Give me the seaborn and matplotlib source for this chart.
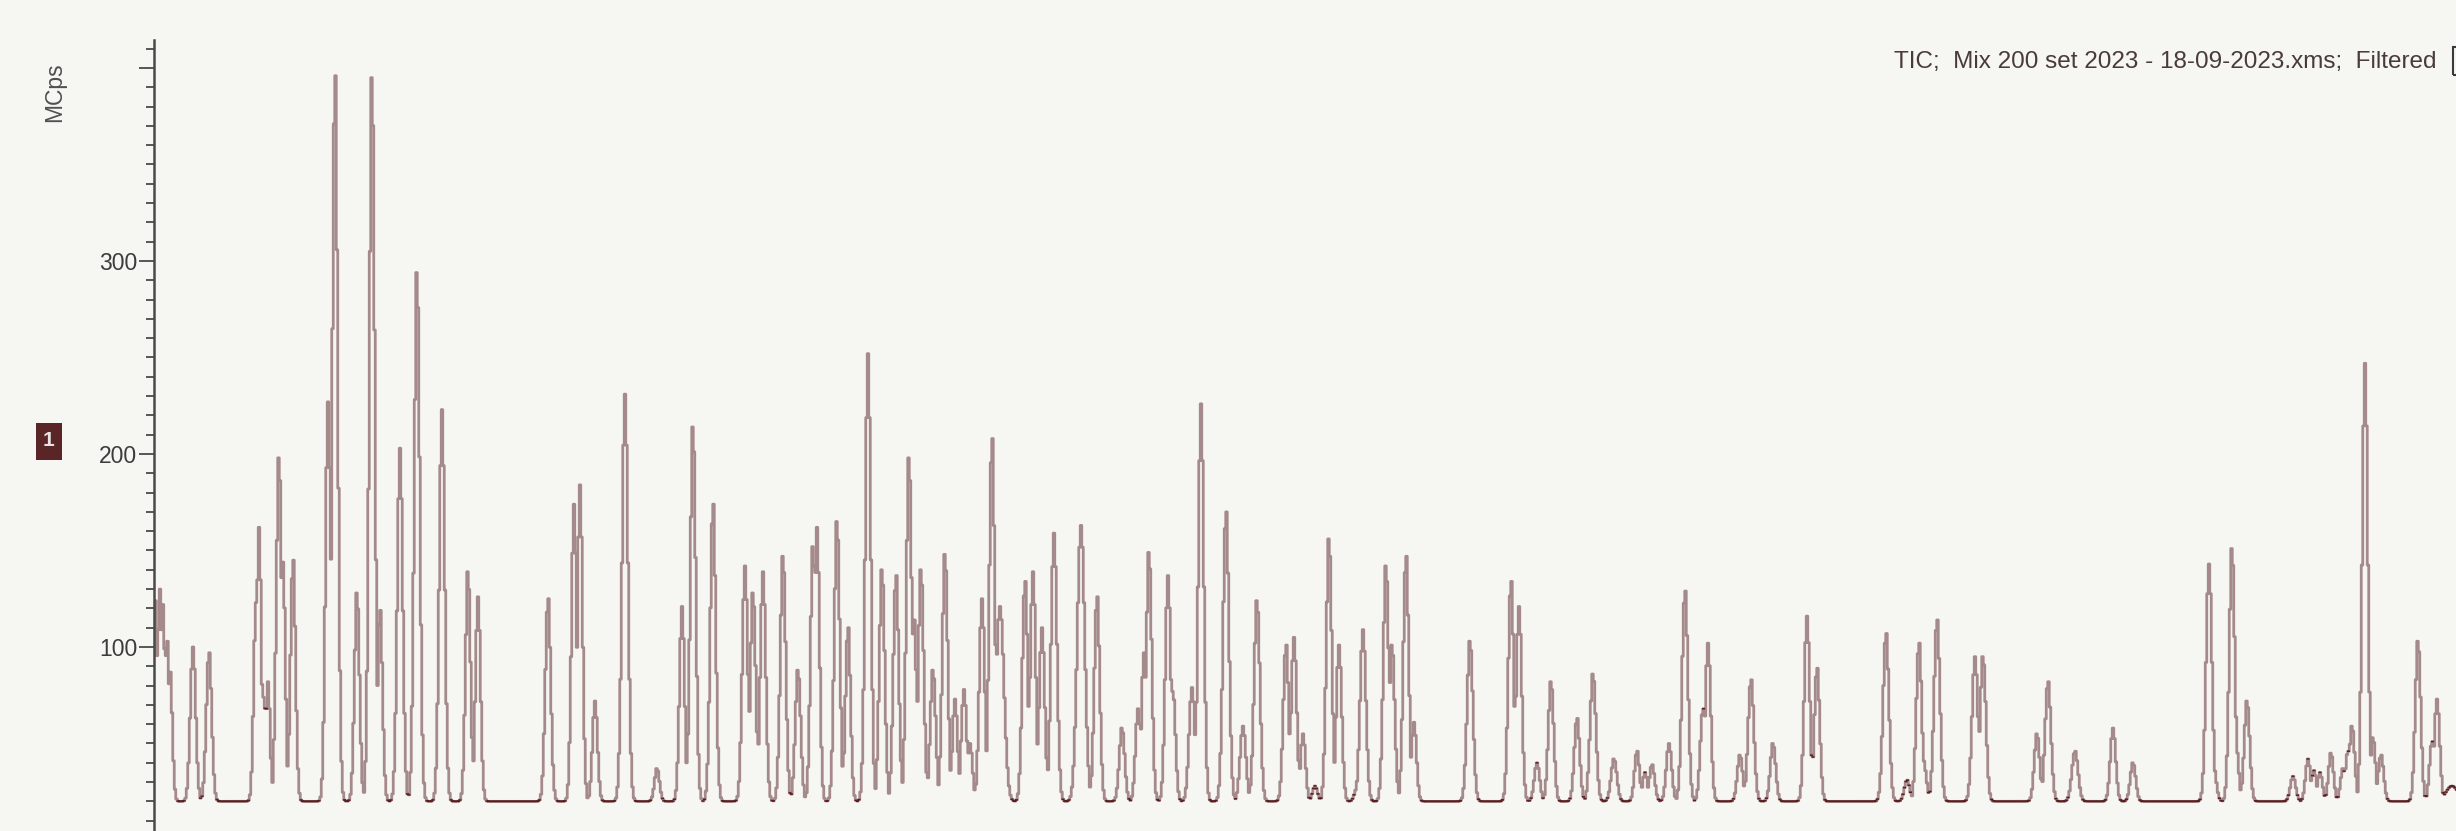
import numpy as np
import pandas as pd
import matplotlib
matplotlib.use("Agg")
import matplotlib.pyplot as plt
from matplotlib.patches import Rectangle
from matplotlib.ticker import MultipleLocator, FixedLocator
import seaborn as sns

# ---- TIC peak table: scan number, apex intensity (MCps), peak sigma (scans) ----
peak_scan = [155, 160, 163, 167, 170, 193, 209, 256, 259, 264, 268, 279, 283, 293,
             328, 335, 357, 372, 380, 400, 417, 442, 468, 478, 548, 574, 580, 595,
             625, 657, 682, 693, 713, 745, 753, 763, 783, 798, 813, 817, 837, 848,
             868, 882, 896, 909, 914, 921, 933, 945, 955, 964, 970, 982, 992, 1000,
             1025, 1033, 1042, 1054, 1081, 1097, 1122, 1138, 1144, 1149, 1168, 1173,
             1192, 1201, 1226, 1243, 1257, 1286, 1294, 1303, 1315, 1329, 1339, 1357,
             1363, 1386, 1392, 1406, 1414, 1470, 1511, 1519, 1537, 1551, 1577, 1593,
             1614, 1637, 1645, 1652, 1669, 1685, 1703, 1708, 1740, 1751, 1773, 1807,
             1817, 1886, 1907, 1919, 1923, 1937, 1975, 1983, 2037, 2048, 2075, 2113,
             2133, 2209, 2213, 2232, 2236, 2247, 2293, 2308, 2314, 2320, 2331, 2343,
             2348, 2352, 2365, 2373, 2381, 2418, 2432, 2437, 2452]
peak_mcps = [124, 130, 122, 103, 87, 100, 97, 123, 162, 74, 82, 198, 144, 145,
             227, 396, 128, 395, 119, 203, 294, 223, 139, 126, 125, 174, 184, 72,
             231, 37, 121, 214, 174, 142, 128, 139, 147, 88, 152, 162, 165, 110,
             252, 140, 137, 198, 114, 140, 88, 148, 73, 78, 50, 125, 208, 121,
             134, 139, 110, 159, 163, 126, 58, 68, 97, 149, 137, 77,
             79, 226, 170, 59, 124, 101, 105, 55, 28, 156, 101, 27,
             109, 142, 101, 147, 61, 103, 134, 121, 40, 82, 63, 86,
             42, 46, 35, 39, 50, 129, 68, 102, 44, 83, 50, 116,
             89, 107, 31, 102, 42, 114, 95, 95, 55, 82, 46, 58,
             40, 143, 40, 151, 50, 72, 33, 42, 36, 35, 45, 37,
             46, 59, 247, 53, 44, 103, 51, 73, 28]
peak_sigma = [2.5, 2.3, 2.1, 2.3, 2.3, 2.7, 2.7, 2.3, 2.3, 2.1, 2.1, 2.7, 2.3, 2.5,
              2.5, 2.7, 2.5, 2.7, 2.5, 2.7, 2.7, 2.7, 2.5, 2.5, 2.7, 2.5, 2.5, 2.5,
              2.9, 2.5, 2.5, 2.7, 2.7, 2.7, 2.7, 2.7, 2.7, 2.7, 2.5, 2.5, 2.7, 2.5,
              2.7, 2.7, 2.7, 2.7, 2.5, 2.7, 2.7, 2.7, 2.5, 2.7, 2.5, 2.7, 2.7, 4.0,
              2.7, 2.7, 2.7, 2.9, 3.7, 2.7, 2.7, 2.5, 2.5, 2.7, 2.7, 2.5,
              2.9, 2.7, 2.9, 2.9, 2.9, 2.7, 2.7, 2.5, 2.5, 2.7, 2.7, 2.5,
              2.9, 2.7, 2.7, 2.7, 2.5, 2.9, 2.7, 2.7, 2.7, 2.7, 2.7, 2.9,
              2.9, 2.5, 2.5, 2.7, 2.7, 2.9, 2.7, 2.7, 2.7, 2.9, 2.7, 2.7,
              2.7, 2.9, 2.7, 2.7, 3.1, 2.9, 2.9, 2.9, 2.7, 2.9, 3.1, 2.7,
              2.7, 2.9, 2.9, 2.7, 2.5, 2.7, 2.7, 2.5, 2.5, 2.5, 2.5, 2.5,
              2.7, 2.7, 2.7, 2.5, 2.7, 2.7, 2.5, 2.7, 6.0]
baseline_mcps = 20.0
scan_interval = 1.5

scan_range = (154, 2456)
y_major = [0, 100, 200, 300, 400]
y_major_labels = ["", "100", "200", "300", ""]
y_limit = (0, 414.5)

title_text = "TIC;  Mix 200 set 2023 - 18-09-2023.xms;  Filtered"
unit_text = "MCps"
trace_tag = "1"

# ---- colours ----
BG = "#f6f6f2"
TRACE_LIGHT = "#a58a8b"
TRACE_DARK = "#5b1f22"
AXIS = "#4a4a4a"

sns.set_style("white")
plt.rcParams["font.family"] = ["Liberation Sans", "DejaVu Sans"]

# Sampled trace: baseline plus the tallest contributing peak at each scan;
# the sample nearest each apex carries the apex intensity.
scans = np.arange(scan_range[0], scan_range[1] + scan_interval, scan_interval, dtype=float)
pos = np.asarray(peak_scan, float)[:, None]
amp = np.asarray(peak_mcps, float)[:, None] - baseline_mcps
sig = np.asarray(peak_sigma, float)[:, None]
tic = baseline_mcps + (amp * np.exp(-0.5 * ((scans[None, :] - pos) / sig) ** 2)).max(axis=0)
for p, h in zip(peak_scan, peak_mcps):
    i = int(np.argmin(np.abs(scans - p)))
    tic[i] = max(tic[i], h)
trace = pd.DataFrame({"scan": scans, "MCps": tic})

W, H = 2456, 831
fig = plt.figure(figsize=(W / 100, H / 100), dpi=100, facecolor=BG)
ax = fig.add_axes([154 / W, 1 - 840 / H, 1 - 154 / W, 800 / H])
ax.set_facecolor(BG)

# risers of the step trace
sns.lineplot(data=trace, x="scan", y="MCps", ax=ax, color=TRACE_LIGHT,
             linewidth=2.0, drawstyle="steps-mid", estimator=None, sort=False)

# treads in quiet stretches (baseline, shoulders) carry the darker trace colour
jump = np.abs(np.diff(tic))
quiet = np.ones_like(tic, dtype=bool)
quiet[:-1] &= jump < 4.0
quiet[1:] &= jump < 4.0
quiet |= np.r_[jump < 1.0, False] | np.r_[False, jump < 1.0]
half = scan_interval / 2
qs, qv = scans[quiet], tic[quiet]
tx = np.column_stack([qs - half, qs + half, np.full_like(qs, np.nan)]).ravel()
ty = np.column_stack([qv, qv, np.full_like(qv, np.nan)]).ravel()
ax.plot(tx, ty, color=TRACE_DARK, linewidth=1.1, solid_capstyle="projecting")

ax.set_xlim(scan_range)
ax.set_ylim(y_limit)
ax.set_xticks([])
ax.set_xlabel("")
ax.set_ylabel("")
for side in ("top", "right", "bottom"):
    ax.spines[side].set_visible(False)
ax.spines["left"].set_color(AXIS)
ax.spines["left"].set_linewidth(1.8)

ax.yaxis.set_major_locator(FixedLocator(y_major))
ax.set_yticklabels(y_major_labels)
ax.yaxis.set_minor_locator(MultipleLocator(10))
ax.tick_params(axis="y", which="both", left=True, direction="out", color=AXIS)
ax.tick_params(axis="y", which="major", length=11, width=1.3,
               pad=1, labelsize=16.5, labelcolor="#3c3c3c")
ax.tick_params(axis="y", which="minor", length=5.5, width=1.3)

fig.text(2436 / W, 1 - 62 / H, title_text, ha="right", va="center",
         fontsize=17.5, color="#4a3b3b")
fig.text(55 / W, 1 - 92 / H, unit_text, rotation=90, ha="center", va="center",
         fontsize=16.5, color="#505050")

fig.patches.append(Rectangle((36 / W, 1 - 460 / H), 26 / W, 37 / H,
                             transform=fig.transFigure, facecolor="#5a2527",
                             edgecolor="none"))
fig.text(49 / W, 1 - 441 / H, trace_tag, ha="center", va="center",
         fontsize=15, fontweight="bold", color="#e8e2e2")
fig.patches.append(Rectangle((2453 / W, 1 - 75 / H), 40 / W, 28 / H,
                             transform=fig.transFigure, fill=False,
                             edgecolor="#3a3a3a", linewidth=1.5))

fig.savefig("out.png", dpi=100, facecolor=BG)
